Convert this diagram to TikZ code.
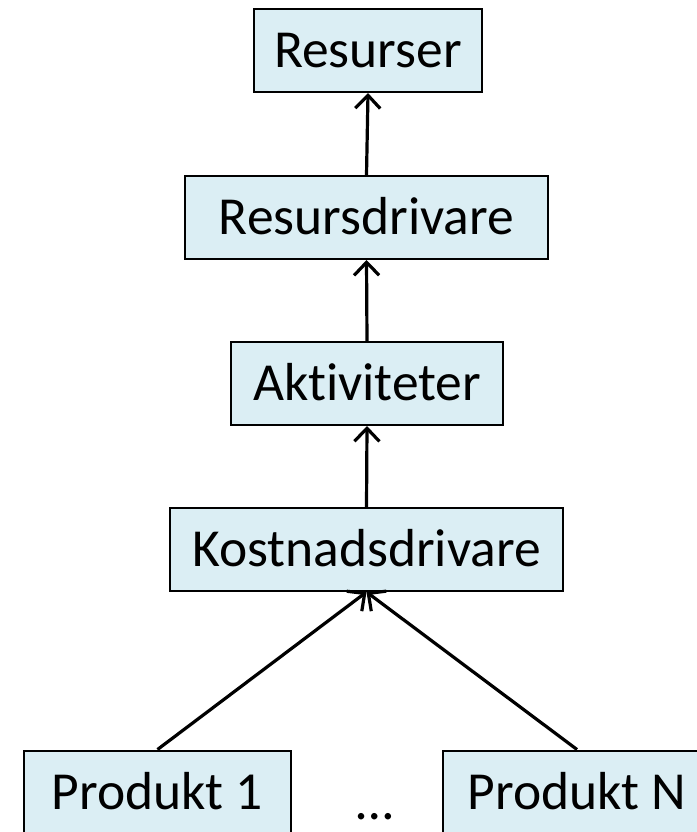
\documentclass[tikz,border=0pt]{standalone}
\usepackage{fontspec}
\setmainfont{Carlito}[RawFeature={-liga}]
\usetikzlibrary{arrows.meta}
\definecolor{boxfill}{HTML}{DBEEF4}
\tikzset{
  level/.style={draw=black, line width=2pt, fill=boxfill, inner sep=0pt,
    minimum height=83pt, text height=34.5pt, text depth=0pt,
    font=\fontsize{53.5}{64}\selectfont},
  flow/.style={line width=3.2pt, -{Straight Barb[length=13pt, width=25pt, line width=3.2pt]}}
}
\begin{document}
\begin{tikzpicture}[x=1pt, y=-1pt]
  \useasboundingbox (0,0) rectangle (696,832);
  % cost hierarchy, top to bottom
  \node[level, minimum width=228pt] (res)  at (368,50.5)   {Resurser};
  \node[level, minimum width=363pt] (rd)   at (366.5,217.5) {Resursdrivare};
  \node[level, minimum width=272pt] (akt)  at (367,383.5)  {Aktiviteter};
  \node[level, minimum width=393pt] (kd)   at (366.5,549.5) {Kostnadsdrivare};
  % products
  \node[level, minimum width=267pt] (p1)   at (157.5,792)  {Produkt 1};
  \node[level, minimum width=268pt] (pn)   at (577,792)    {Produkt N};
  \node[font=\fontsize{53.5}{64}\selectfont, inner sep=0pt, anchor=base] (dots) at (375,819) {…};
  % connectors
  \draw[flow] (rd.north)  -- (res.south);
  \draw[flow] (akt.north) -- (rd.south);
  \draw[flow] (kd.north)  -- (akt.south);
  \draw[flow] (p1.north)  -- (kd.south);
  \draw[flow] (pn.north)  -- (kd.south);
\end{tikzpicture}
\end{document}
